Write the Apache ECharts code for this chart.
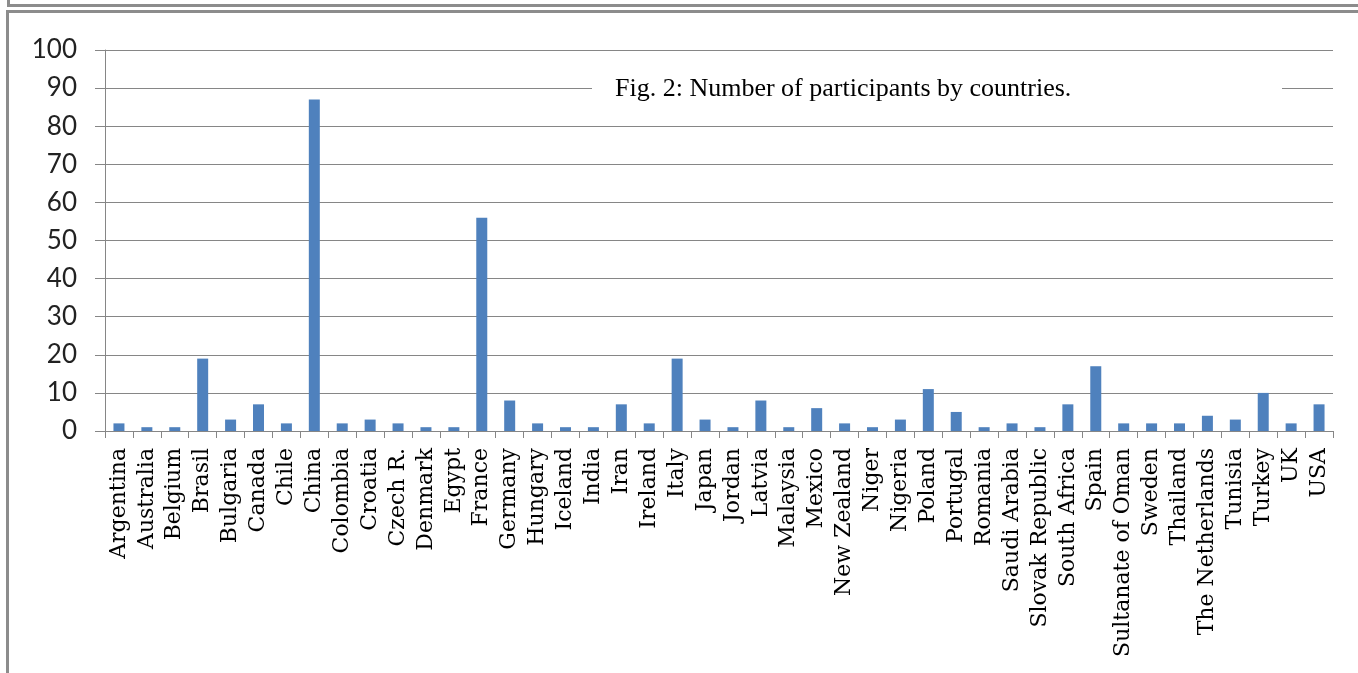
<!DOCTYPE html>
<html><head><meta charset="utf-8">
<script src="https://cdn.jsdelivr.net/npm/echarts@6/dist/echarts.min.js"></script>
<style>
html,body{margin:0;padding:0;background:#fff;}
#c{position:absolute;left:0;top:0;width:1358px;height:673px;}
.b{position:absolute;background:#8c8c8c;}
</style></head>
<body>
<div id="c"></div>
<div class="b" style="left:7px;top:0;width:3px;height:6px"></div>
<div class="b" style="left:7px;top:4px;width:1351px;height:3px"></div>
<div class="b" style="left:7px;top:10px;width:1351px;height:3px"></div>
<div class="b" style="left:6px;top:10px;width:3px;height:663px"></div>
<script>
const categories = ["Argentina","Australia","Belgium","Brasil","Bulgaria","Canada","Chile","China","Colombia","Croatia","Czech R.","Denmark","Egypt","France","Germany","Hungary","Iceland","India","Iran","Ireland","Italy","Japan","Jordan","Latvia","Malaysia","Mexico","New Zealand","Niger","Nigeria","Poland","Portugal","Romania","Saudi Arabia","Slovak Republic","South Africa","Spain","Sultanate of Oman","Sweden","Thailand","The Netherlands","Tunisia","Turkey","UK","USA"];
const participants = [2,1,1,19,3,7,2,87,2,3,2,1,1,56,8,2,1,1,7,2,19,3,1,8,1,6,2,1,3,11,5,1,2,1,7,17,2,2,2,4,3,10,2,7];
const titleText = "Fig. 2: Number of participants by countries.";

const chart = echarts.init(document.getElementById('c'));
chart.setOption({
  animation:false,
  backgroundColor:'transparent',
  grid:{left:105,right:25,top:50,bottom:242,containLabel:false},
  graphic:[
    {type:'rect',left:592,top:74,shape:{width:690,height:30},style:{fill:'#fff'},z:10},
    {type:'text',x:615,y:89,style:{text:titleText,font:'26px "Liberation Serif"',fill:'#000',verticalAlign:'middle',align:'left'},z:11}
  ],
  xAxis:{
    type:'category',data:categories,
    axisLine:{lineStyle:{color:'#868686',width:1}},
    axisTick:{show:true,alignWithLabel:false,length:7,lineStyle:{color:'#868686'}},
    axisLabel:{rotate:90,interval:0,fontFamily:'DejaVu Serif',fontSize:22,color:'#000',margin:17}
  },
  yAxis:{
    type:'value',min:0,max:100,interval:10,
    axisLine:{show:true,lineStyle:{color:'#868686'}},
    axisTick:{show:true,length:10,lineStyle:{color:'#868686'}},
    splitLine:{lineStyle:{color:'#868686',width:1}},
    axisLabel:{fontFamily:'Lato',fontSize:26,color:'#222',margin:28}
  },
  series:[{type:'bar',data:participants,barWidth:11,itemStyle:{color:'#4F81BD'}}]
});
</script>
</body></html>
